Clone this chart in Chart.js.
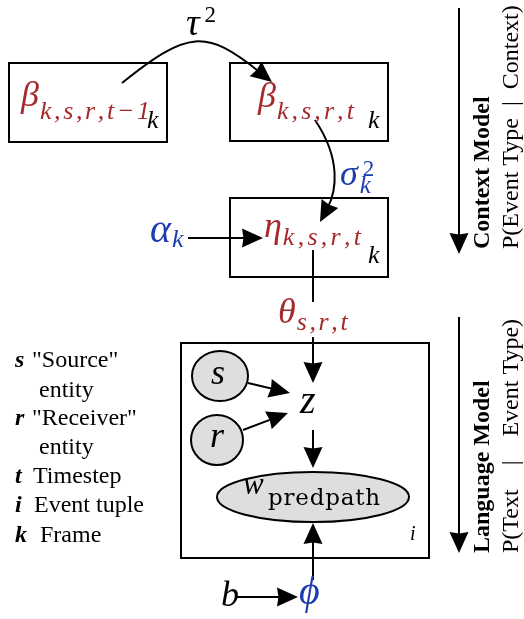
<!DOCTYPE html>
<html>
<head>
<meta charset="utf-8">
<script src="https://cdn.jsdelivr.net/npm/chart.js@4.4.0/dist/chart.umd.min.js"></script>
<style>
  html, body { margin: 0; padding: 0; background: #fff; }
  canvas { display: block; }
</style>
</head>
<body>
<canvas id="diagram" width="524" height="619"></canvas>
<script>
// graphical model: variables, their subscripts and where they sit (figure units)
const nodeLabel = ['β', 'β', 'η', 'θ', 's', 'r', 'z', 'w', 'ϕ', 'b', 'α'];
const nodeSub = ['k,s,r,t−1', 'k,s,r,t', 'k,s,r,t', 's,r,t', '', '', '', 'predpath', '', '', 'k'];
const nodeX = [21, 258, 264, 278, 211, 210, 300, 243, 299, 221, 150];
const nodeY = [106, 107, 237, 323, 384, 447, 413, 494, 604, 606, 242];

// hyper-parameters with a superscript
const hyperLabel = ['τ', 'σ'];
const hyperSup = ['2', '2'];
const hyperSub = ['', 'k'];

// plates and their index letter
const plateLabel = ['k', 'k', 'k', 'i'];

// key on the left
const legendKey = ['s', '', 'r', '', 't', 'i', 'k'];
const legendText = ['"Source"', 'entity', '"Receiver"', 'entity', 'Timestep', 'Event tuple', 'Frame'];

// the two stages on the right
const stageTitle = ['Context Model', 'Language Model'];
const stageText = ['P(Event Type  |  Context)', 'P(Text    |    Event Type)'];

const RED = '#a52a2c';
const BLUE = '#1d3cb0';
const MATH = '"Liberation Serif", "DejaVu Serif", serif';
const ROMAN = '"DejaVu Serif", serif';

const layout = {
  nodeColor: [RED, RED, RED, RED, '#000', '#000', '#000', '#000', BLUE, '#000', BLUE],
  mainSize: [36, 36, 36, 36, 36, 36, 40, 31, 40, 36, 40],
  subWidth: [110, 77, 78, 51, 0, 0, 0, 112, 0, 0, 0],
  subDrop: [13, 12, 8, 7, 0, 0, 0, 11, 0, 0, 5],
  hyper: [[186, 35, -13, 5, 38], [340, 185, -9, 5, 36]],
  hyperColor: ['#000', BLUE],
  plates: [[9, 63, 167, 142], [230, 63, 388, 141], [230, 198, 388, 277], [181, 343, 429, 558]],
  plateText: [[147, 128, 26], [368, 128, 26], [368, 263, 26], [410, 540, 20]],
  ellipses: [[220, 376, 28, 25], [217, 440, 26, 25], [313, 497, 96, 25]],
  arrows: [
    [[122, 83], [188, 30], [206, 29], [272, 82]],
    [[315, 120], [342, 160], [336, 192], [320, 222]],
    [[188, 238], [263, 238]],
    [[313, 337], [313, 383]],
    [[248, 383], [290, 393]],
    [[243, 430], [288, 413]],
    [[313, 430], [313, 468]],
    [[313, 580], [313, 523]],
    [[235, 597], [298, 597]],
    [[459, 8], [459, 254]],
    [[459, 317], [459, 553]]
  ],
  lines: [[[313, 250], [313, 302]]],
  legendY: [367, 397, 425, 454, 483, 512, 542],
  legendX: [32, 39, 32, 39, 33, 34, 40],
  stageAt: [[249, 489, 518], [553, 489, 518]]
};

function spread(ctx, str, x, y, width) {
  // draw str char by char so that it spans `width`
  const chars = Array.from(str);
  const widths = chars.map(c => ctx.measureText(c).width);
  const natural = widths.reduce((a, b) => a + b, 0);
  const gap = width && chars.length > 1 ? (width - natural) / (chars.length - 1) : 0;
  let cx = x;
  chars.forEach((c, i) => {
    ctx.fillText(c, cx, y);
    cx += widths[i] + gap;
  });
}

function arrowHead(ctx, tx, ty, dx, dy) {
  const len = Math.hypot(dx, dy);
  const ux = dx / len, uy = dy / len;
  const L = 21, W = 9.5;
  ctx.beginPath();
  ctx.moveTo(tx, ty);
  ctx.lineTo(tx - ux * L - uy * W, ty - uy * L + ux * W);
  ctx.lineTo(tx - ux * L * 0.93, ty - uy * L * 0.93);
  ctx.lineTo(tx - ux * L + uy * W, ty - uy * L - ux * W);
  ctx.closePath();
  ctx.fill();
}

const diagramPlugin = {
  id: 'diagram',
  afterDraw(chart) {
    const ctx = chart.ctx;
    const sx = chart.scales.x, sy = chart.scales.y;
    const px = v => sx.getPixelForValue(v);
    const py = v => sy.getPixelForValue(v);
    ctx.save();
    ctx.lineWidth = 2;
    ctx.strokeStyle = '#000';
    ctx.fillStyle = '#000';
    ctx.textBaseline = 'alphabetic';
    ctx.textAlign = 'left';

    // plates
    layout.plates.forEach(p => {
      ctx.strokeRect(px(p[0]), py(p[1]), px(p[2]) - px(p[0]), py(p[3]) - py(p[1]));
    });
    plateLabel.forEach((t, i) => {
      const p = layout.plateText[i];
      ctx.font = `italic ${p[2]}px ${MATH}`;
      ctx.fillText(t, px(p[0]), py(p[1]));
    });

    // observed variables
    layout.ellipses.forEach(e => {
      ctx.beginPath();
      ctx.ellipse(px(e[0]), py(e[1]), e[2], e[3], 0, 0, Math.PI * 2);
      ctx.fillStyle = '#dedede';
      ctx.fill();
      ctx.stroke();
    });

    // edges
    ctx.fillStyle = '#000';
    layout.lines.forEach(l => {
      ctx.beginPath();
      ctx.moveTo(px(l[0][0]), py(l[0][1]));
      ctx.lineTo(px(l[1][0]), py(l[1][1]));
      ctx.stroke();
    });
    layout.arrows.forEach(a => {
      const pts = a.map(p => [px(p[0]), py(p[1])]);
      const end = pts[pts.length - 1], prev = pts[pts.length - 2];
      const dx = end[0] - prev[0], dy = end[1] - prev[1];
      const len = Math.hypot(dx, dy);
      const stop = [end[0] - dx / len * 16, end[1] - dy / len * 16];
      ctx.beginPath();
      ctx.moveTo(pts[0][0], pts[0][1]);
      if (pts.length === 4) {
        ctx.bezierCurveTo(pts[1][0], pts[1][1], pts[2][0], pts[2][1], stop[0], stop[1]);
      } else {
        ctx.lineTo(stop[0], stop[1]);
      }
      ctx.stroke();
      arrowHead(ctx, end[0], end[1], dx, dy);
    });

    // variable names
    chart.data.datasets[0].data.forEach((pt, i) => {
      const x = px(pt.x), y = py(pt.y);
      ctx.fillStyle = layout.nodeColor[i];
      ctx.font = `italic ${layout.mainSize[i]}px ${MATH}`;
      ctx.fillText(nodeLabel[i], x, y);
      const w = ctx.measureText(nodeLabel[i]).width;
      if (nodeSub[i]) {
        const upright = nodeSub[i] === 'predpath';
        ctx.font = upright ? `23px ${ROMAN}` : `italic 26px ${MATH}`;
        const sx0 = upright ? x + 25 : x + w + 1;
        spread(ctx, nodeSub[i], sx0, y + layout.subDrop[i], layout.subWidth[i]);
      }
    });

    hyperLabel.forEach((t, i) => {
      const h = layout.hyper[i];
      const x = px(h[0]), y = py(h[1]);
      ctx.fillStyle = layout.hyperColor[i];
      ctx.font = `italic ${h[4]}px ${MATH}`;
      ctx.fillText(t, x, y);
      const w = ctx.measureText(t).width;
      ctx.font = `23px ${MATH}`;
      ctx.fillText(hyperSup[i], x + w + h[3], y + h[2]);
      if (hyperSub[i]) {
        ctx.font = `italic 25px ${MATH}`;
        ctx.fillText(hyperSub[i], x + w + 2, y + 8);
      }
    });

    // key
    ctx.fillStyle = '#000';
    legendText.forEach((t, i) => {
      const y = py(layout.legendY[i]);
      if (legendKey[i]) {
        ctx.font = `bold italic 24px ${MATH}`;
        ctx.fillText(legendKey[i], px(15), y);
      }
      ctx.font = `24px ${MATH}`;
      ctx.fillText(t, px(layout.legendX[i]), y);
    });

    // stage labels, rotated
    stageTitle.forEach((t, i) => {
      const s = layout.stageAt[i];
      ctx.save();
      ctx.translate(px(s[1]), py(s[0]));
      ctx.rotate(-Math.PI / 2);
      ctx.font = `bold 24px ${MATH}`;
      ctx.fillText(t, 0, 0);
      ctx.restore();
      ctx.save();
      ctx.translate(px(s[2]), py(s[0]));
      ctx.rotate(-Math.PI / 2);
      ctx.font = `24px ${MATH}`;
      ctx.fillText(stageText[i], 0, 0);
      ctx.restore();
    });
    ctx.restore();
  }
};

new Chart(document.getElementById('diagram').getContext('2d'), {
  type: 'scatter',
  data: {
    datasets: [{
      data: nodeX.map((x, i) => ({ x, y: nodeY[i] })),
      pointRadius: 0
    }]
  },
  options: {
    responsive: false,
    animation: false,
    events: [],
    layout: { padding: 0 },
    plugins: { legend: { display: false }, tooltip: { enabled: false } },
    scales: {
      x: { type: 'linear', min: 0, max: 524, display: false },
      y: { type: 'linear', min: 0, max: 619, reverse: true, display: false }
    }
  },
  plugins: [diagramPlugin]
});
</script>
</body>
</html>
